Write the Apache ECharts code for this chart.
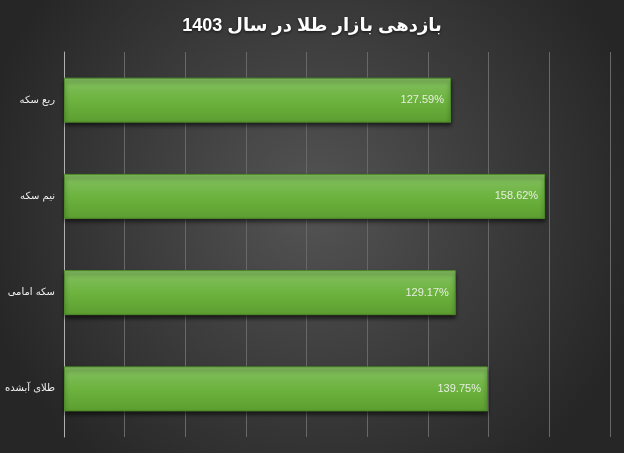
<!DOCTYPE html>
<html><head><meta charset="utf-8">
<script src="https://cdn.jsdelivr.net/npm/echarts@6/dist/echarts.min.js"></script>
<style>html,body{margin:0;padding:0;background:#333;}#c{width:624px;height:453px;}</style>
</head><body><div id="c"></div>
<script>
const categories = ['ربع سکه', 'نیم سکه', 'سکه امامی', 'طلای آبشده'];
const values = [127.59, 158.62, 129.17, 139.75];
const titleText = 'بازدهی بازار طلا در سال 1403';

const chart = echarts.init(document.getElementById('c'));
chart.setOption({
  backgroundColor: {
    type: 'radial', x: 0.5, y: 0.45, r: 0.75,
    colorStops: [{offset: 0, color: '#545454'}, {offset: 1, color: '#262626'}]
  },
  title: {
    text: titleText, left: 'center', top: 12,
    textStyle: {color: '#ffffff', fontSize: 18, fontWeight: 'bold', fontFamily: 'Liberation Sans, DejaVu Sans, sans-serif',
      textShadowColor: 'rgba(0,0,0,0.7)', textShadowBlur: 3, textShadowOffsetY: 1}
  },
  grid: {left: 64, right: 14, top: 52, bottom: 16},
  xAxis: {
    type: 'value', min: 0, max: 180, interval: 20,
    axisLabel: {show: false}, axisTick: {show: false}, axisLine: {show: false},
    splitLine: {show: true, lineStyle: {color: '#686868', width: 1}}
  },
  yAxis: {
    type: 'category', data: categories, inverse: true,
    axisLine: {show: true, lineStyle: {color: '#b0b0b0', width: 1}},
    axisTick: {show: false},
    axisLabel: {color: '#f0f0f0', fontSize: 10, margin: 9, fontFamily: 'DejaVu Sans, sans-serif'}
  },
  series: [{
    type: 'bar', data: values, barWidth: 45,
    itemStyle: {
      color: {type: 'linear', x: 0, y: 0, x2: 0, y2: 1,
        colorStops: [{offset: 0, color: '#84bf62'}, {offset: 0.5, color: '#6db33f'}, {offset: 1, color: '#5c9e30'}]},
      borderColor: '#4e8a2a', borderWidth: 1,
      shadowColor: 'rgba(0,0,0,0.6)', shadowBlur: 4, shadowOffsetY: 3
    },
    label: {
      show: true, position: 'insideRight', distance: 7,
      color: '#e6eee0', fontSize: 11, fontFamily: 'Liberation Sans, sans-serif',
      formatter: p => p.value.toFixed(2) + '%'
    }
  }]
});
</script></body></html>
